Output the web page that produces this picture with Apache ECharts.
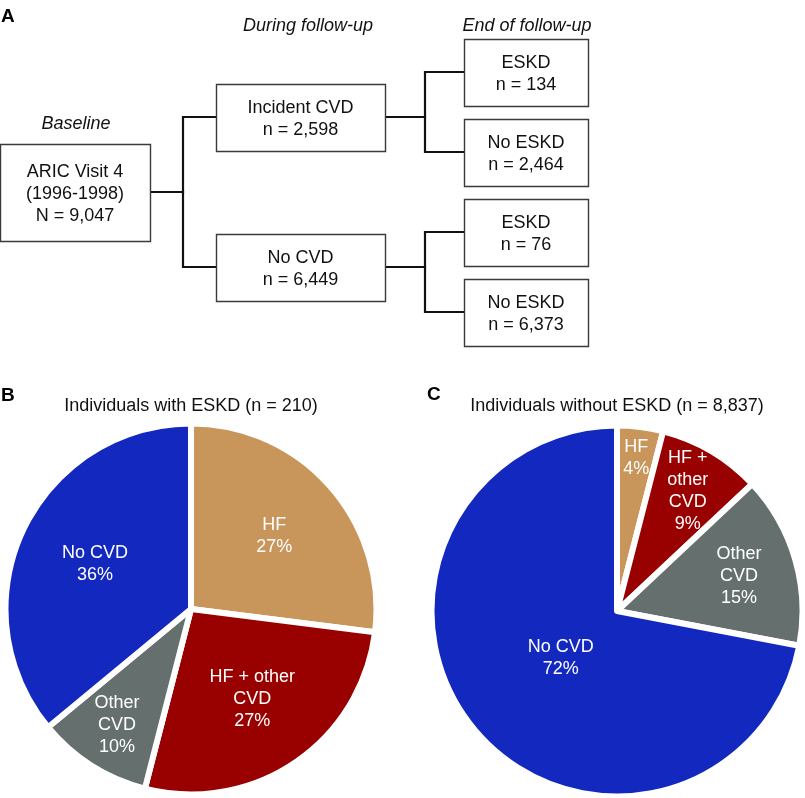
<!DOCTYPE html>
<html><head><meta charset="utf-8">
<script src="https://cdn.jsdelivr.net/npm/echarts@6/dist/echarts.min.js"></script>
<style>html,body{margin:0;padding:0;background:#fff}#c{width:805px;height:798px}</style>
</head><body><div id="c"></div>
<script>
// ---------- data ----------
const stageNames = ['Baseline', 'During follow-up', 'End of follow-up'];
const baselineLabels = ['ARIC Visit 4\n(1996-1998)'];
const baselineCounts = [9047];
const followupLabels = ['Incident CVD', 'No CVD'];
const followupCounts = [2598, 6449];
const endLabels = ['ESKD', 'No ESKD', 'ESKD', 'No ESKD'];
const endCounts = [134, 2464, 76, 6373];
const endParents = [0, 0, 1, 1];

const pieCategories = ['HF', 'HF + other CVD', 'Other CVD', 'No CVD'];
const eskdTitle = 'Individuals with ESKD (n = 210)';
const eskdPercents = [27, 27, 10, 36];
const noEskdTitle = 'Individuals without ESKD (n = 8,837)';
const noEskdPercents = [4, 9, 15, 72];

// ---------- styles / layout ----------
const FONT = '"Liberation Sans", Arial, Helvetica, sans-serif';
const sliceColors = ['#C8955A', '#990000', '#65706E', '#1228BE'];
const eskdLabelText = ['HF', 'HF + other\nCVD', 'Other\nCVD', 'No CVD'];
const noEskdLabelText = ['HF', 'HF +\nother\nCVD', 'Other\nCVD', 'No CVD'];
const eskdLabelRadius = [111, 109, 138, 106];
const noEskdLabelRadius = [154, 139, 127, 73];
const boxW = [150, 169, 124];
const boxH = [97, 67, 67];
const levelSpread = [0, 1.875, 1];
const rowCenter = 1.5;

// ---------- build flowchart nodes ----------
const levels = [
  { labels: baselineLabels, counts: baselineCounts, prefix: 'N' },
  { labels: followupLabels, counts: followupCounts, prefix: 'n' },
  { labels: endLabels, counts: endCounts, prefix: 'n' }
];
const nodes = [];
const rowsByLevel = [];
levels.forEach((lv, L) => {
  rowsByLevel[L] = [];
  const n = lv.labels.length;
  lv.labels.forEach((lab, i) => {
    const row = rowCenter + (i - (n - 1) / 2) * levelSpread[L];
    rowsByLevel[L].push(row);
    nodes.push({ value: [L, row], text: lab + '\n' + lv.prefix + ' = ' + lv.counts[i].toLocaleString('en-US') });
  });
});
const links = [];
rowsByLevel[1].forEach(r => links.push({ value: [0, rowsByLevel[0][0], 1, r] }));
endParents.forEach((p, i) => links.push({ value: [1, rowsByLevel[1][p], 2, rowsByLevel[2][i]] }));

function renderNode(params, api) {
  const L = api.value(0);
  const c = api.coord([L, api.value(1)]);
  const w = boxW[L], h = boxH[L];
  return {
    type: 'group', children: [
      { type: 'rect', shape: { x: Math.round(c[0] - w / 2) + 0.5, y: Math.round(c[1] - h / 2) + 0.5, width: w, height: h },
        style: { fill: '#fff', stroke: '#3a3a3a', lineWidth: 1.4 } },
      { type: 'text', style: { text: nodes[params.dataIndex].text, x: c[0], y: c[1] + 2.5, align: 'center', verticalAlign: 'middle',
        fontSize: 18, lineHeight: 22, fill: '#111', fontFamily: FONT } }
    ]
  };
}
function renderLink(params, api) {
  const pl = api.value(0), cl = api.value(2);
  const p = api.coord([pl, api.value(1)]);
  const c = api.coord([cl, api.value(3)]);
  const x1 = p[0] + boxW[pl] / 2, x2 = c[0] - boxW[cl] / 2, xm = Math.round((x1 + x2) / 2);
  return { type: 'polyline', shape: { points: [[x1, p[1]], [xm, p[1]], [xm, c[1]], [x2, c[1]]] },
    style: { stroke: '#111', lineWidth: 2.2, fill: null } };
}

// ---------- pies ----------
function pieSeries(center, percents, labelText, labelRadius) {
  const R = 185.5;
  const out = [{
    type: 'pie', center: center, radius: R, startAngle: 90, clockwise: true, silent: true,
    label: { show: false }, labelLine: { show: false },
    itemStyle: { borderColor: '#fff', borderWidth: 6 },
    data: pieCategories.map((c, i) => ({ name: c, value: percents[i], itemStyle: { color: sliceColors[i] } }))
  }];
  labelRadius.forEach((rl, k) => {
    const m = rl - 3;
    let r0, r1;
    if (2 * m <= R) { r0 = 0; r1 = 2 * m; } else { r1 = R; r0 = 2 * m - R; }
    out.push({
      type: 'pie', center: center, radius: [r0, r1], startAngle: 90, clockwise: true, silent: true, z: 5,
      itemStyle: { color: 'rgba(0,0,0,0)', borderWidth: 0 }, labelLine: { show: false },
      data: pieCategories.map((c, i) => ({
        name: c, value: percents[i],
        label: { show: i === k, position: 'inside', formatter: labelText[i] + '\n' + percents[i] + '%',
          color: '#fff', fontSize: 18, lineHeight: 22, fontFamily: FONT, textBorderWidth: 0, padding: [5, 0, 0, 0] }
      }))
    });
  });
  return out;
}

const titleStyle = { fontSize: 18, fontWeight: 'normal', color: '#111', fontFamily: FONT };
const italic = Object.assign({}, titleStyle, { fontStyle: 'italic' });
const bold = Object.assign({}, titleStyle, { fontWeight: 'bold', fontSize: 19, color: '#000' });

const chart = echarts.init(document.getElementById('c'));
chart.setOption({
  animation: false,
  backgroundColor: '#fff',
  textStyle: { fontFamily: FONT },
  title: [
    { text: 'A', left: 1, top: 7, padding: 0, textStyle: bold },
    { text: stageNames[0], left: 76, top: 115, padding: 0, textAlign: 'center', textStyle: italic },
    { text: stageNames[1], left: 308, top: 17, padding: 0, textAlign: 'center', textStyle: italic },
    { text: stageNames[2], left: 527, top: 17, padding: 0, textAlign: 'center', textStyle: italic },
    { text: 'B', left: 1, top: 386, padding: 0, textStyle: bold },
    { text: 'C', left: 427, top: 385, padding: 0, textStyle: bold },
    { text: eskdTitle, left: 191, top: 397, padding: 0, textAlign: 'center', textStyle: titleStyle },
    { text: noEskdTitle, left: 617, top: 397, padding: 0, textAlign: 'center', textStyle: titleStyle }
  ],
  grid: { left: 75, width: 451, top: 72, height: 240, show: false },
  xAxis: { type: 'value', min: 0, max: 2, show: false },
  yAxis: { type: 'value', min: 0, max: 3, inverse: true, show: false },
  series: [
    { type: 'custom', coordinateSystem: 'cartesian2d', renderItem: renderLink, data: links, silent: true, z: 1 },
    { type: 'custom', coordinateSystem: 'cartesian2d', renderItem: renderNode, data: nodes, silent: true, z: 2 }
  ].concat(pieSeries([191, 609], eskdPercents, eskdLabelText, eskdLabelRadius))
   .concat(pieSeries([617, 611], noEskdPercents, noEskdLabelText, noEskdLabelRadius))
});
</script></body></html>
